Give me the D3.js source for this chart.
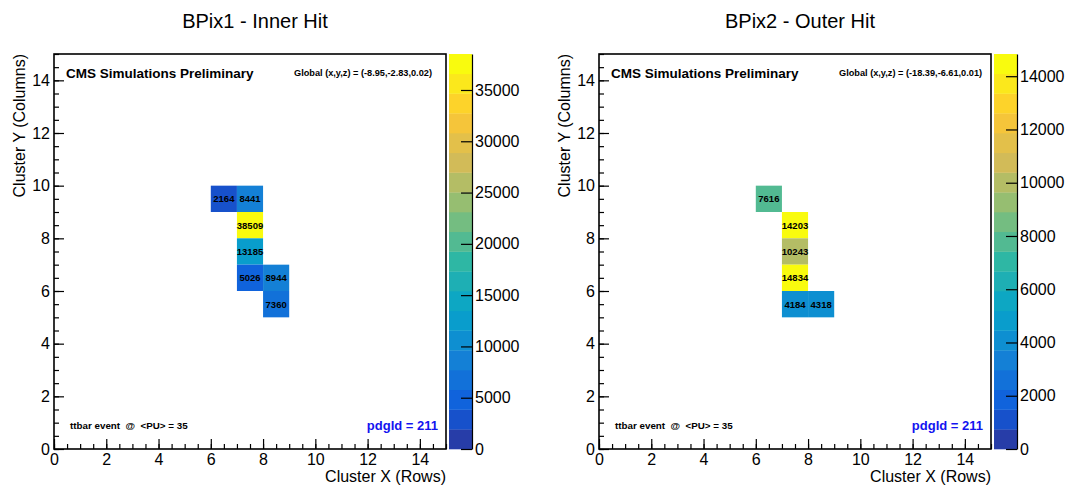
<!DOCTYPE html>
<html>
<head>
<meta charset="utf-8">
<script src="https://cdn.jsdelivr.net/npm/d3@7"></script>
<style>
  body { margin: 0; background: #fff; }
  text { font-family: "Liberation Sans", Arial, Helvetica, sans-serif; }
</style>
</head>
<body>
<div id="chart"></div>
<script>
"use strict"

// ---- data ----
const titles = ["BPix1 - Inner Hit", "BPix2 - Outer Hit"];
const globalPos = ["Global (x,y,z) = (-8.95,-2.83,0.02)", "Global (x,y,z) = (-18.39,-6.61,0.01)"];

const rows1 = [6, 7, 7, 7, 7, 8, 8];
const cols1 = [9, 9, 8, 7, 6, 6, 5];
const charge1 = [2164, 8441, 38509, 13185, 5026, 8944, 7360];

const rows2 = [6, 7, 7, 7, 7, 8];
const cols2 = [9, 8, 7, 6, 5, 5];
const charge2 = [7616, 14203, 10243, 14834, 4184, 4318];

const axisTicks = [0, 2, 4, 6, 8, 10, 12, 14];
const zTicks1 = [0, 5000, 10000, 15000, 20000, 25000, 30000, 35000];
const zTicks2 = [0, 2000, 4000, 6000, 8000, 10000, 12000, 14000];

// ROOT kBird palette stops
const birdStops = [0, 0.125, 0.25, 0.375, 0.5, 0.625, 0.75, 0.875, 1];
const birdCols = [
  [0.2082, 0.1664, 0.5293], [0.0592, 0.3599, 0.8684], [0.0780, 0.5041, 0.8385],
  [0.0232, 0.6419, 0.7914], [0.1802, 0.7178, 0.6425], [0.5301, 0.7492, 0.4662],
  [0.8186, 0.7328, 0.3499], [0.9956, 0.7862, 0.1968], [0.9764, 0.9832, 0.0539]
].map(c => d3.rgb(c[0] * 255, c[1] * 255, c[2] * 255).formatHex());

const bird = d3.scaleLinear().domain(birdStops).range(birdCols).interpolate(d3.interpolateRgb);
const nBands = 20;

function bandColor(i) {
  let idx = Math.floor((i + 0.99) * 255 / nBands);
  return bird(Math.min(idx, 254) / 254);
}

const W = 1070, H = 486;
const svg = d3.select("#chart").append("svg")
  .attr("width", W)
  .attr("height", H);

function drawPanel(ox, title, gpos, rows, cols, charge, zTicks) {
  const g = svg.append("g").attr("transform", "translate(" + ox + ",0)");
  const left = 54, right = 446, top = 54, bottom = 449;

  const x = d3.scaleLinear().domain([0, 15]).range([left, right]);
  const y = d3.scaleLinear().domain([0, 15]).range([bottom, top]);
  const zmax = d3.max(charge);

  g.append("text")
    .attr("x", 255)
    .attr("y", 28)
    .attr("text-anchor", "middle")
    .style("font-size", "20px")
    .text(title);

  // cells
  const cells = rows.map((r, i) => ({ r: r, c: cols[i], v: charge[i] }));
  g.selectAll(".cell").data(cells).enter().append("rect")
    .attr("class", "cell")
    .attr("x", d => x(d.r))
    .attr("y", d => y(d.c + 1))
    .attr("width", d => x(d.r + 1) - x(d.r))
    .attr("height", d => y(d.c) - y(d.c + 1))
    .style("fill", d => bandColor(Math.min(nBands - 1, Math.floor(nBands * d.v / zmax))));

  g.selectAll(".cellText").data(cells).enter().append("text")
    .attr("class", "cellText")
    .attr("x", d => x(d.r + 0.5))
    .attr("y", d => y(d.c + 0.5) + 3.5)
    .attr("text-anchor", "middle")
    .style("font-size", "9.5px")
    .style("font-weight", "bold")
    .text(d => d.v);

  // axes with inward ticks
  const minor = d3.range(0, 15.01, 0.5);
  g.append("g")
    .attr("transform", "translate(0," + bottom + ")")
    .call(d3.axisBottom(x).tickValues(minor).tickSizeInner(-5).tickSizeOuter(0).tickFormat(""))
    .call(a => a.select(".domain").remove());
  g.append("g")
    .attr("transform", "translate(0," + bottom + ")")
    .call(d3.axisBottom(x).tickValues(axisTicks).tickSizeInner(-10).tickSizeOuter(0).tickPadding(5))
    .call(a => a.select(".domain").remove())
    .call(a => a.selectAll("text").style("font-size", "16px").style("font-family", null).attr("fill", "#000"));

  g.append("g")
    .attr("transform", "translate(" + left + ",0)")
    .call(d3.axisLeft(y).tickValues(minor).tickSizeInner(-5).tickSizeOuter(0).tickFormat(""))
    .call(a => a.select(".domain").remove());
  g.append("g")
    .attr("transform", "translate(" + left + ",0)")
    .call(d3.axisLeft(y).tickValues(axisTicks).tickSizeInner(-10).tickSizeOuter(0).tickPadding(4))
    .call(a => a.select(".domain").remove())
    .call(a => a.selectAll("text").style("font-size", "16px").style("font-family", null).attr("fill", "#000"));

  g.selectAll(".tick line").style("stroke", "#000").style("stroke-width", "1.2px");

  // frame
  g.append("rect")
    .attr("x", left)
    .attr("y", top)
    .attr("width", right - left)
    .attr("height", bottom - top)
    .style("fill", "none")
    .style("stroke", "#000")
    .style("stroke-width", "1.6px");

  // axis titles
  g.append("text")
    .attr("x", right)
    .attr("y", 482)
    .attr("text-anchor", "end")
    .style("font-size", "16px")
    .text("Cluster X (Rows)");
  g.append("text")
    .attr("transform", "translate(25," + top + ") rotate(-90)")
    .attr("text-anchor", "end")
    .style("font-size", "16px")
    .text("Cluster Y (Columns)");

  // labels inside the frame
  g.append("text")
    .attr("x", left + 12)
    .attr("y", 78)
    .style("font-size", "13.5px")
    .style("font-weight", "bold")
    .text("CMS Simulations Preliminary");
  g.append("text")
    .attr("x", left + 240)
    .attr("y", 76)
    .style("font-size", "9.2px")
    .style("font-weight", "bold")
    .text(gpos);
  g.append("text")
    .attr("x", left + 16)
    .attr("y", 429)
    .attr("xml:space", "preserve")
    .style("white-space", "pre")
    .style("font-size", "9.8px")
    .style("font-weight", "bold")
    .text("ttbar event  @  <PU> = 35");
  g.append("text")
    .attr("x", right - 8)
    .attr("y", 430)
    .attr("text-anchor", "end")
    .style("font-size", "13px")
    .style("font-weight", "bold")
    .style("fill", "#1414f0")
    .text("pdgId = 211");

  // colour bar
  const cbLeft = 449, cbRight = 472;
  const z = d3.scaleLinear().domain([0, zmax]).range([bottom, top]);
  const bands = d3.range(nBands);
  g.selectAll(".band").data(bands).enter().append("rect")
    .attr("class", "band")
    .attr("x", cbLeft)
    .attr("y", i => z((i + 1) * zmax / nBands))
    .attr("width", cbRight - cbLeft)
    .attr("height", i => z(i * zmax / nBands) - z((i + 1) * zmax / nBands) + 0.3)
    .style("fill", i => bandColor(i));

  g.append("g")
    .attr("transform", "translate(" + cbRight + ",0)")
    .call(d3.axisRight(z).tickValues(zTicks).tickSizeInner(-11).tickSizeOuter(0).tickPadding(3).tickFormat(d3.format("d")))
    .call(a => a.select(".domain").style("stroke", "#000").style("stroke-width", "1.2px"))
    .call(a => a.selectAll(".tick line").style("stroke", "#000").style("stroke-width", "1.2px"))
    .call(a => a.selectAll("text").style("font-size", "16px").style("font-family", null).attr("fill", "#000"));
}

drawPanel(0, titles[0], globalPos[0], rows1, cols1, charge1, zTicks1);
drawPanel(545, titles[1], globalPos[1], rows2, cols2, charge2, zTicks2);
</script>
</body>
</html>
